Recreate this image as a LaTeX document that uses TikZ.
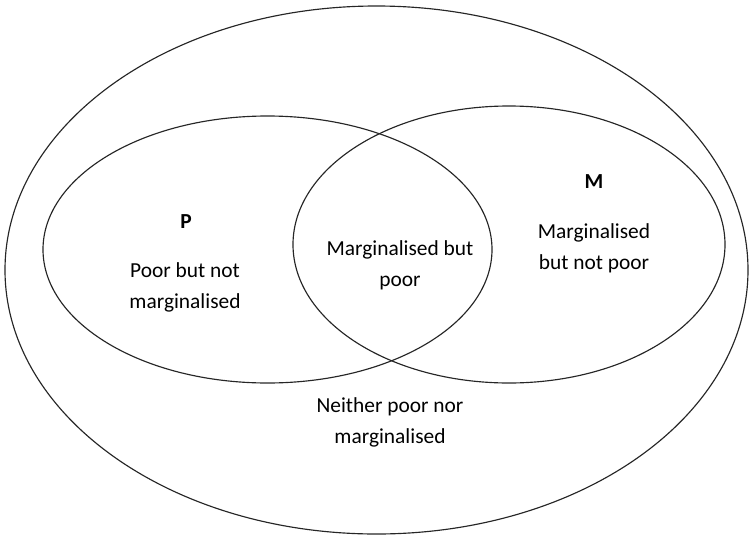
\documentclass[tikz,border=0pt]{standalone}
\usepackage{fontspec}
\setmainfont{Carlito}
\begin{document}
\begin{tikzpicture}[x=1pt,y=1pt,
  ring/.style={draw=black!85, line width=1.15pt},
  lbl/.style={align=center, inner sep=0pt, anchor=base, font=\fontsize{21.4}{31}\selectfont},
  head/.style={inner sep=0pt, font=\fontsize{21.4}{31}\selectfont\bfseries}]
\useasboundingbox (0,0) rectangle (750,-536);
\draw[ring] (376.5,-270) ellipse [x radius=371.5, y radius=264];
\draw[ring] (267.5,-249.5) ellipse [x radius=224.5, y radius=133.5];
\draw[ring] (509,-244.5) ellipse [x radius=216, y radius=138.5];
\node[head] (p) at (186,-222) {P};
\node[lbl] (pt) at (185,-308) {Poor but not\\marginalised};
\node[head] (m) at (594,-182) {M};
\node[lbl] (mt) at (594,-269) {Marginalised\\but not poor};
\node[lbl] (both) at (400,-286) {Marginalised but\\poor};
\node[lbl] (neither) at (390,-443) {Neither poor nor\\marginalised};
\end{tikzpicture}
\end{document}
